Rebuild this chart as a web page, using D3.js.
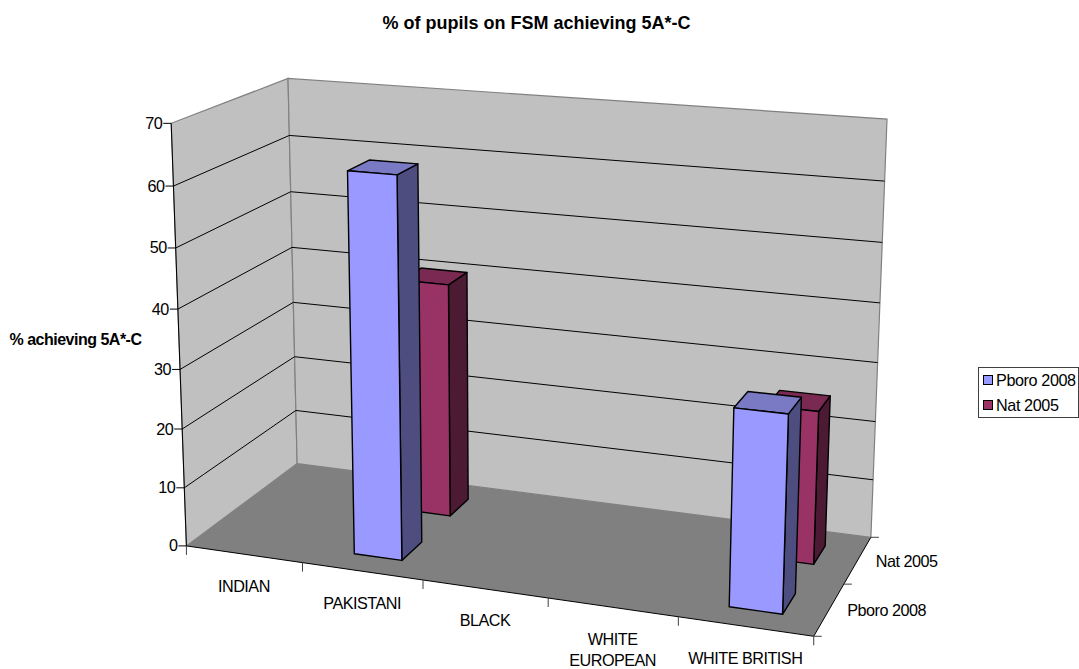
<!DOCTYPE html>
<html lang="en">
<head>
<meta charset="UTF-8">
<title>% of pupils on FSM achieving 5A*-C</title>
<style>
  * { margin: 0; padding: 0; }
  body { background: #fff; }
  text { font-family: "Liberation Sans", Arial, sans-serif; fill: #000; }
</style>
</head>
<body>
<div id="chart-area"></div>
<script src="https://cdn.jsdelivr.net/npm/d3@7/dist/d3.min.js"></script>
<script>
const categories = [['INDIAN'], ['PAKISTANI'], ['BLACK'], ['WHITE', 'EUROPEAN'], ['WHITE BRITISH']]
const seriesNames = ['Pboro 2008', 'Nat 2005']
const pboro = [null, 63.2, null, null, 31.8]
const nat = [null, 40.3, null, null, 25.6]
const yTicks = [0, 10, 20, 30, 40, 50, 60, 70]

const COLORS = [
  {front: '#9999ff', side: '#4d4d80', top: '#7a7ac4'},
  {front: '#993366', side: '#4d1a33', top: '#7a2952'}
]
const BAR_INSET = 0.3   // gap width / gap depth 150%
const LABEL_SIZE = 16.2
const LABEL_SPACING = -0.5

const svg = d3.select('#chart-area').append('svg')
  .attr('width', 1079).attr('height', 669).style('display', 'block')

const u = d3.scaleLinear().domain([0, categories.length]).range([0, 1])
const v = d3.scaleLinear().domain([0, seriesNames.length]).range([0, 1])
const w = d3.scaleLinear().domain([0, 70]).range([0, 1])

// reference points of the 3d box as seen in the picture: [cat, series, value, px, py]
const anchors = [
  [0, 0, 0, 187, 546], [5, 0, 0, 813, 636], [0, 2, 0, 297, 463], [5, 2, 0, 871, 537],
  [0, 0, 70, 171, 123], [0, 2, 70, 288, 78], [5, 2, 70, 887, 119],
  [1, 0, 0, 302, 563], [2, 0, 0, 423, 580], [5, 1, 0, 845, 584],
  [0, 0, 10, 184, 488], [0, 0, 60, 174, 186], [0, 2, 60, 289, 136], [0, 2, 50, 291, 192],
  [5, 2, 10, 873, 480], [5, 2, 20, 875, 422]
]

// fit a perspective camera to the anchors (least squares)
function fitCamera(points) {
  const rows = []
  points.forEach(([c, s, val, px, py]) => {
    const a = u(c), b = v(s), d = w(val), x = px / 1000, y = py / 1000
    rows.push([a, b, d, 1, 0, 0, 0, 0, -x * a, -x * b, -x * d, x])
    rows.push([0, 0, 0, 0, a, b, d, 1, -y * a, -y * b, -y * d, y])
  })
  const n = 11
  const m = d3.range(n).map(i => d3.range(n + 1).map(j => d3.sum(rows, r => r[i] * r[j])))
  for (let i = 0; i < n; i++) {
    let best = i
    for (let k = i + 1; k < n; k++) if (Math.abs(m[k][i]) > Math.abs(m[best][i])) best = k
    ;[m[i], m[best]] = [m[best], m[i]]
    for (let k = 0; k < n; k++) {
      if (k === i) continue
      const f = m[k][i] / m[i][i]
      for (let j = i; j <= n; j++) m[k][j] -= f * m[i][j]
    }
  }
  return m.map((r, i) => r[n] / r[i])
}
const cam = fitCamera(anchors)

function project(c, s, val) {
  const a = u(c), b = v(s), d = w(val)
  const q = cam[8] * a + cam[9] * b + cam[10] * d + 1
  return [
    1000 * (cam[0] * a + cam[1] * b + cam[2] * d + cam[3]) / q,
    1000 * (cam[4] * a + cam[5] * b + cam[6] * d + cam[7]) / q
  ]
}

const poly = pts => 'M' + pts.map(p => p.join(',')).join('L') + 'Z'
const nC = categories.length, nS = seriesNames.length
const yMax = yTicks[yTicks.length - 1]

// walls + floor
const walls = svg.append('g')
walls.append('path').attr('d', poly([project(0, 0, 0), project(0, 0, yMax), project(0, nS, yMax), project(0, nS, 0)]))
  .attr('fill', '#c0c0c0').attr('stroke', '#808080').attr('stroke-width', 1.2)
walls.append('path').attr('d', poly([project(0, nS, 0), project(0, nS, yMax), project(nC, nS, yMax), project(nC, nS, 0)]))
  .attr('fill', '#c0c0c0').attr('stroke', '#808080').attr('stroke-width', 1.2)
walls.append('path').attr('d', poly([project(0, 0, 0), project(nC, 0, 0), project(nC, nS, 0), project(0, nS, 0)]))
  .attr('fill', '#808080')

// gridlines
const grid = svg.append('g').attr('fill', 'none').attr('stroke', '#000').attr('stroke-width', 1)
yTicks.filter(t => t > 0 && t < yMax).forEach(t => {
  grid.append('path').attr('d', d3.line()([project(0, 0, t), project(0, nS, t), project(nC, nS, t)]))
})

// axis lines and ticks
const axes = svg.append('g').attr('fill', 'none').attr('stroke', '#000').attr('stroke-width', 1)
axes.append('path').attr('d', d3.line()([project(0, 0, yMax), project(0, 0, 0)]))
axes.append('path').attr('d', d3.line()([project(0, 0, 0), project(nC, 0, 0), project(nC, nS, 0)]))
yTicks.forEach(t => {
  const [x, y] = project(0, 0, t)
  axes.append('path').attr('d', d3.line()([[x - 8, y], [x, y]]))
  svg.append('text').attr('x', x - 9).attr('y', y + 5.5)
    .attr('text-anchor', 'end').attr('font-size', LABEL_SIZE).attr('letter-spacing', LABEL_SPACING).text(t)
})
d3.range(nC + 1).forEach(i => {
  const [x, y] = project(i, 0, 0)
  axes.append('path').attr('d', d3.line()([[x, y], [x, y + 9]])).attr('stroke', '#404040')
})
d3.range(nS + 1).forEach(i => {
  const [x, y] = project(nC, i, 0)
  axes.append('path').attr('d', d3.line()([[x, y], [x + 8, y]])).attr('stroke', '#404040')
})

// bars, back row first
function drawBar(cat, row, val, col) {
  const c0 = cat + BAR_INSET, c1 = cat + 1 - BAR_INSET
  const s0 = row + BAR_INSET, s1 = row + 1 - BAR_INSET
  const g = svg.append('g').attr('stroke', '#000').attr('stroke-width', 1.4).attr('stroke-linejoin', 'round')
  g.append('path').attr('d', poly([project(c1, s0, 0), project(c1, s1, 0), project(c1, s1, val), project(c1, s0, val)])).attr('fill', col.side)
  g.append('path').attr('d', poly([project(c0, s0, val), project(c1, s0, val), project(c1, s1, val), project(c0, s1, val)])).attr('fill', col.top)
  g.append('path').attr('d', poly([project(c0, s0, 0), project(c1, s0, 0), project(c1, s0, val), project(c0, s0, val)])).attr('fill', col.front)
}
const seriesValues = [pboro, nat]
d3.range(nC).forEach(c => {
  d3.range(nS - 1, -1, -1).forEach(s => {
    if (seriesValues[s][c] != null) drawBar(c, s, seriesValues[s][c], COLORS[s])
  })
})

// category labels
categories.forEach((lines, i) => {
  const [x, y] = project(i + 0.5, 0, 0)
  lines.forEach((line, k) => {
    svg.append('text').attr('x', x).attr('y', y + 37.5 + k * 21)
      .attr('text-anchor', 'middle').attr('font-size', LABEL_SIZE).attr('letter-spacing', LABEL_SPACING).text(line)
  })
})

// series labels on the depth axis
seriesNames.forEach((name, i) => {
  const [x, y] = project(nC, i + 0.5, 0)
  svg.append('text').attr('x', x + 18).attr('y', y + 6.5)
    .attr('font-size', LABEL_SIZE).attr('letter-spacing', LABEL_SPACING).text(name)
})

// titles
svg.append('text').attr('x', 536.5).attr('y', 29).attr('text-anchor', 'middle')
  .attr('font-size', 18).attr('font-weight', 'bold').text('% of pupils on FSM achieving 5A*-C')
svg.append('text').attr('x', 75.5).attr('y', 345).attr('text-anchor', 'middle')
  .attr('font-size', 16).attr('font-weight', 'bold').attr('letter-spacing', -0.5).text('% achieving 5A*-C')

// legend
const legend = svg.append('g')
legend.append('rect').attr('x', 978.5).attr('y', 367.5).attr('width', 100).attr('height', 50)
  .attr('fill', '#fff').attr('stroke', '#404040')
seriesNames.forEach((name, i) => {
  const y = 375 + i * 25
  legend.append('rect').attr('x', 983.5).attr('y', y + 0.5).attr('width', 9).attr('height', 9)
    .attr('fill', COLORS[i].front).attr('stroke', '#000')
  legend.append('text').attr('x', 996).attr('y', y + 10.5).attr('font-size', LABEL_SIZE).attr('letter-spacing', -0.4).text(name)
})
</script>
</body>
</html>
